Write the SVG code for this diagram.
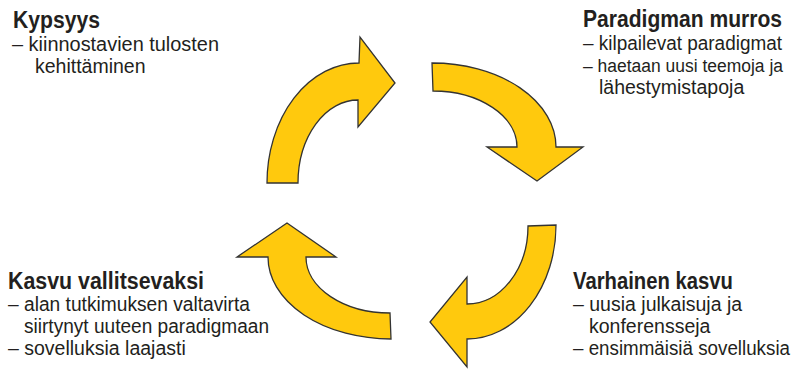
<svg xmlns="http://www.w3.org/2000/svg" width="801" height="373" viewBox="0 0 801 373">
<style>
.arrow{fill:#FFC90D;stroke:#333333;stroke-width:1.3;stroke-linejoin:miter}
.h{font-family:"Liberation Sans",Arial,sans-serif;font-weight:bold;font-size:23px;fill:#231F20}
.b{font-family:"Liberation Sans",Arial,sans-serif;font-size:19.5px;fill:#231F20}
</style>
<rect width="801" height="373" fill="#ffffff"/>
<g id="connectors">
<path class="arrow" d="M267,183 A92,120 0 0 1 359,63 L360,37 L395,83 L358,127 L358,100 A60,83 0 0 0 298,183 Z"/>
<path class="arrow" d="M432,63 A124,84 0 0 1 556,147 L583,147 L537,181 L487,147 L517,147 A84,56 0 0 0 433,91 Z"/>
<path class="arrow" d="M556,225 A89,114 0 0 1 467,339 L467,367 L430,322 L467,277 L467,304 A61,78 0 0 0 528,226 Z"/>
<path class="arrow" d="M391,339 A123,82 0 0 1 268,257 L237,257 L287,223 L336,257 L306,257 A84,56 0 0 0 390,313 Z"/>
</g>
<g id="kypsyys">
<text class="h" x="13" y="28" textLength="87" lengthAdjust="spacingAndGlyphs">Kypsyys</text>
<text class="b" x="12" y="51" textLength="207" lengthAdjust="spacingAndGlyphs">– kiinnostavien tulosten</text>
<text class="b" x="35" y="73">kehittäminen</text>
</g>
<g id="paradigman-murros">
<text class="h" x="583" y="27" textLength="199" lengthAdjust="spacingAndGlyphs">Paradigman murros</text>
<text class="b" x="583" y="50" textLength="199" lengthAdjust="spacingAndGlyphs">– kilpailevat paradigmat</text>
<text class="b" x="583" y="72" style="font-size:18px" textLength="200" lengthAdjust="spacingAndGlyphs">– haetaan uusi teemoja ja</text>
<text class="b" x="599" y="94">lähestymistapoja</text>
</g>
<g id="varhainen-kasvu">
<text class="h" x="573" y="289" textLength="160" lengthAdjust="spacingAndGlyphs">Varhainen kasvu</text>
<text class="b" x="573" y="311">– uusia julkaisuja ja</text>
<text class="b" x="589" y="333">konferensseja</text>
<text class="b" x="573" y="355" textLength="217" lengthAdjust="spacingAndGlyphs">– ensimmäisiä sovelluksia</text>
</g>
<g id="kasvu-vallitsevaksi">
<text class="h" x="8" y="289" textLength="196" lengthAdjust="spacingAndGlyphs">Kasvu vallitsevaksi</text>
<text class="b" x="8" y="311" textLength="242" lengthAdjust="spacingAndGlyphs">– alan tutkimuksen valtavirta</text>
<text class="b" x="24" y="333" textLength="245" lengthAdjust="spacingAndGlyphs">siirtynyt uuteen paradigmaan</text>
<text class="b" x="8" y="355">– sovelluksia laajasti</text>
</g>
</svg>
